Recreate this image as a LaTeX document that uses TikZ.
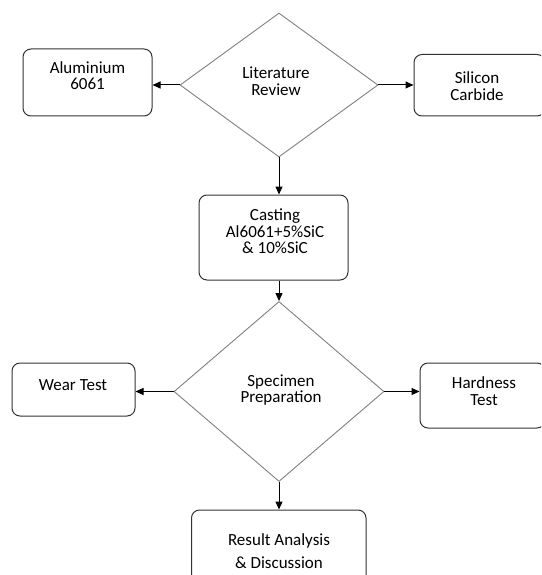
\documentclass[tikz,border=0pt]{standalone}
\usepackage{fontspec}
\setmainfont{Carlito}
\usetikzlibrary{shapes.geometric,arrows.meta}
\tikzset{
  box/.style={draw=black!80, line width=1pt, rounded corners=8pt, inner sep=0pt},
  dia/.style={diamond, draw=black!50, line width=0.9pt, inner sep=0pt},
  txt/.style={align=center, inner sep=0pt, font=\fontsize{17}{16.5}\selectfont},
  arr/.style={-{Triangle[length=8pt,width=7pt]}, line width=1pt, black},
}
\begin{document}
\begin{tikzpicture}[x=1pt,y=-1pt]
\clip (0,0) rectangle (541,575);
\useasboundingbox (0,0) rectangle (541,575);
% diamonds
\node[dia, minimum width=198pt, minimum height=144pt] (lit) at (279,85) {};
\node[txt] (litt) at (276,81) {Literature\\Review};
\node[dia, minimum width=210pt, minimum height=180pt] (spec) at (279,391.5) {};
\node[txt] (spect) at (281,390) {Specimen\\Preparation};
% boxes
\node[box, minimum width=129pt, minimum height=67pt] (alu) at (87.5,82.5) {};
\node[txt] (alut) at (87.5,75.5) {Aluminium\\6061};
\node[box, minimum width=131pt, minimum height=61.5pt] (sil) at (479.5,85.25) {};
\node[txt] (silt) at (477,86) {Silicon\\Carbide};
\node[box, minimum width=149pt, minimum height=85pt] (cast) at (273.5,237.5) {};
\node[txt] (castt) at (275,231.5) {Casting\\Al6061+5\%SiC\\\& 10\%SiC};
\node[box, minimum width=123pt, minimum height=53pt] (wear) at (73.5,389.5) {};
\node[txt] (weart) at (73,385.5) {Wear Test};
\node[box, minimum width=125pt, minimum height=65pt] (hard) at (482.5,395.5) {};
\node[txt] (hardt) at (484,391) {Hardness\\Test};
\node[box, minimum width=174.5pt, minimum height=80pt] (res) at (278.75,550) {};
\node[txt] (rest) at (279,551) {Result Analysis\\[6.5pt]\& Discussion};
% arrows
\draw[arr] (lit.west) -- (lit.west -| alu.east);
\draw[arr] (lit.east) -- (lit.east -| sil.west);
\draw[arr] (lit.south) -- (lit.south |- cast.north);
\draw[arr] (cast.south -| spec.north) -- (spec.north);
\draw[arr] (spec.west) -- (spec.west -| wear.east);
\draw[arr] (spec.east) -- (spec.east -| hard.west);
\draw[arr] (spec.south) -- (spec.south |- res.north);
\end{tikzpicture}
\end{document}
